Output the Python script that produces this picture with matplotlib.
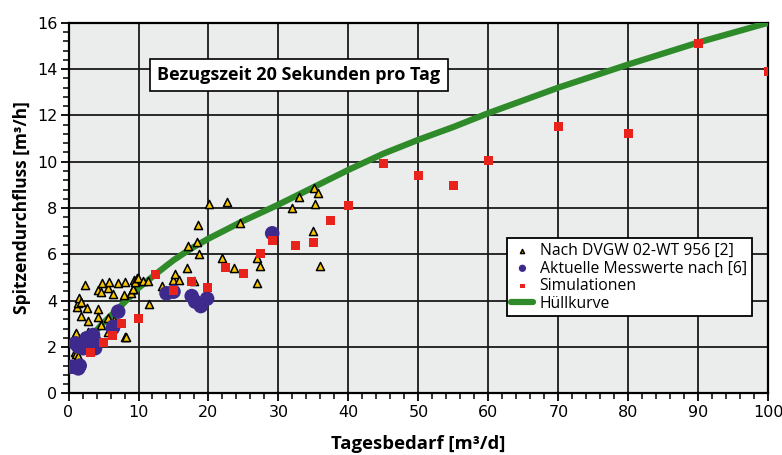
import matplotlib.pyplot as plt
from matplotlib.ticker import MultipleLocator

# Nach DVGW 02-WT 956 [2]
dvgw_x = [0.5, 0.9, 1.0, 0.9, 1.1, 1.4, 1.5, 1.4, 1.9, 1.2, 1.3, 1.5, 1.8, 2.4, 2.7,
          2.8, 2.8, 1.8, 4.2, 4.2, 4.2, 4.6, 4.7, 4.8, 5.6, 5.6, 5.6, 5.8, 6.4, 6.5,
          7.0, 7.9, 8.1, 8.1, 8.2, 8.9, 9.2, 9.2, 9.4, 9.5, 9.8, 9.9, 10.7, 11.3,
          11.5, 13.3, 15.0, 15.2, 15.8, 16.9, 17.1, 18.0, 18.3, 18.5, 18.6, 20.1,
          22.0, 22.6, 23.7, 24.5, 26.9, 27.0, 27.4, 32.0, 33.0, 34.9, 35.1, 35.2,
          35.6, 35.9]
dvgw_y = [2.27, 2.50, 2.62, 1.77, 1.70, 1.56, 1.48, 1.63, 2.45, 3.74, 3.91, 4.10, 3.96,
          4.68, 3.67, 3.14, 2.66, 3.34, 3.66, 3.31, 4.46, 4.36, 2.95, 4.76, 4.53, 3.27,
          2.66, 4.80, 4.28, 3.17, 4.76, 4.25, 4.80, 2.42, 2.42, 4.32, 4.51, 4.52, 4.89,
          4.79, 5.00, 5.00, 4.85, 4.85, 3.85, 4.65, 4.89, 5.17, 4.88, 5.41, 6.35, 4.87,
          6.52, 7.27, 6.02, 8.17, 5.86, 8.26, 5.43, 7.34, 4.76, 5.83, 5.51, 8.02, 8.49,
          7.01, 8.85, 8.17, 8.66, 5.51]

# Aktuelle Messwerte nach [6]
mess_x = [0.5, 1.4, 1.6, 1.0, 1.4, 2.1, 2.6, 2.9, 3.5, 3.8, 3.8, 6.3, 6.4, 7.1,
          14.0, 15.0, 17.6, 18.1, 18.9, 19.8, 29.1]
mess_y = [1.15, 1.08, 1.20, 2.16, 2.02, 1.95, 2.38, 2.38, 2.52, 2.23, 1.95, 2.81, 2.88,
          3.53, 4.32, 4.39, 4.20, 3.96, 3.77, 4.09, 6.91]

# Simulationen
sim_x = [3.1, 5.0, 6.3, 7.5, 10.0, 12.5, 15.0, 17.6, 19.8, 22.5, 25.0, 27.5, 29.1,
         32.5, 35.0, 37.5, 40.0, 45.0, 50.0, 55.0, 60.0, 70.0, 80.0, 90.0, 100.0]
sim_y = [1.78, 2.20, 2.49, 3.00, 3.22, 5.12, 4.45, 4.82, 4.58, 5.43, 5.17, 6.05, 6.58,
         6.39, 6.52, 7.45, 8.13, 9.93, 9.40, 8.96, 10.07, 11.53, 11.20, 15.11, 13.90]

# Hüllkurve
huell_x = [3.8, 5, 7.5, 10, 12.5, 15, 17.5, 20, 25, 30, 35, 40, 45, 50, 55, 60,
           70, 80, 90, 100]
huell_y = [2.66, 3.05, 3.78, 4.55, 5.16, 5.75, 6.25, 6.68, 7.45, 8.15, 8.9, 9.65,
           10.35, 10.95, 11.5, 12.1, 13.2, 14.2, 15.15, 16.0]

fig = plt.figure(figsize=(7.82, 4.55), dpi=100)
ax = fig.add_axes([0.0876, 0.1354, 0.8951, 0.8147])
ax.set_facecolor('#ebecec')

ax.plot(huell_x, huell_y, color='#2f8a2a', lw=4.5, solid_capstyle='round', zorder=3,
        label='Hüllkurve')
ax.scatter(dvgw_x, dvgw_y, marker='^', s=34, c='#f7c600', edgecolors='black',
           linewidths=1.1, zorder=4, label='Nach DVGW 02-WT 956 [2]')
ax.scatter(mess_x, mess_y, marker='o', s=110, c='#3d2a8c', edgecolors='none',
           zorder=5, label='Aktuelle Messwerte nach [6]')
ax.scatter(sim_x, sim_y, marker='s', s=42, c='#e8231b', edgecolors='none',
           zorder=6, label='Simulationen')

ax.set_xlim(0, 100)
ax.set_ylim(0, 16)
ax.xaxis.set_major_locator(MultipleLocator(10))
ax.xaxis.set_minor_locator(MultipleLocator(2))
ax.yaxis.set_major_locator(MultipleLocator(2))
ax.yaxis.set_minor_locator(MultipleLocator(0.4))
ax.grid(True, which='major', color='#1a1a1a', lw=1.3)
ax.set_axisbelow(True)
for s in ax.spines.values():
    s.set_linewidth(1.6)
    s.set_color('black')
ax.tick_params(which='major', direction='out', length=6, width=1.3,
               labelsize=11.5, pad=2)
ax.tick_params(which='minor', direction='out', length=4, width=1.1)
for lbl in ax.get_xticklabels() + ax.get_yticklabels():
    lbl.set_family('Liberation Sans Narrow')

ax.set_xlabel('Tagesbedarf [m³/d]', fontsize=13.3, fontweight='bold',
              family='Open Sans', labelpad=11)
ax.set_ylabel('Spitzendurchfluss [m³/h]', fontsize=12.5, fontweight='bold',
              family='Open Sans', labelpad=4)

ax.text(0.329, 0.859, 'Bezugszeit 20 Sekunden pro Tag', transform=ax.transAxes,
        ha='center', va='center', fontsize=13, fontweight='bold', family='Open Sans',
        bbox=dict(boxstyle='square,pad=0.4', fc='white', ec='black', lw=1.2),
        zorder=7)

h, l = ax.get_legend_handles_labels()
order = [1, 2, 3, 0]
leg = ax.legend([h[i] for i in order], [l[i] for i in order],
                loc='upper right', bbox_to_anchor=(0.987, 0.44),
                prop={'family': 'Open Sans', 'size': 11.3}, frameon=True,
                fancybox=False, edgecolor='black', framealpha=1,
                handlelength=1.4, handletextpad=0.4, borderpad=0.3,
                labelspacing=0.1, markerscale=0.5)
leg.get_frame().set_linewidth(1.3)
leg.set_zorder(8)

fig.savefig('out.png', dpi=100)
